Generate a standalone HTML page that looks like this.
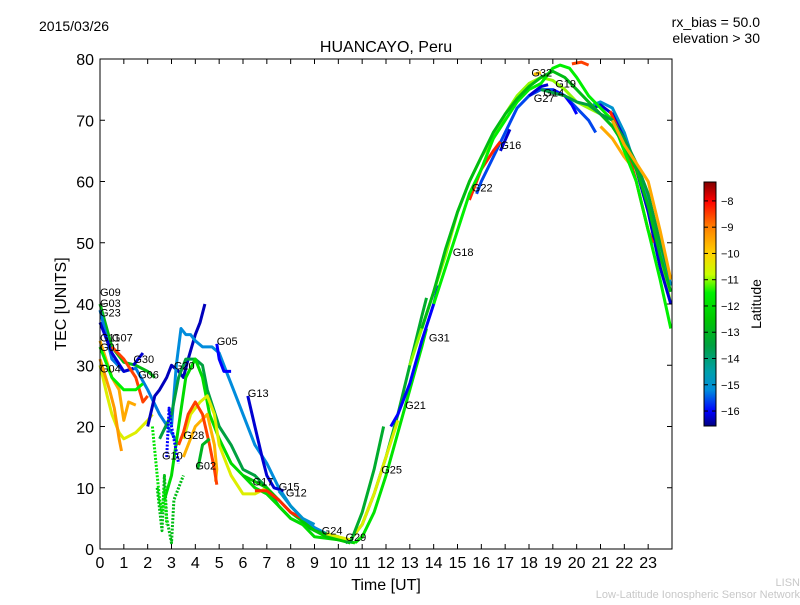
<!DOCTYPE html>
<html><head><meta charset="utf-8"><style>
body{margin:0;background:#fff;}
svg text{font-family:"Liberation Sans","DejaVu Sans",sans-serif;}
</style></head><body>
<svg id="chart" width="800" height="600" xmlns="http://www.w3.org/2000/svg">
<rect width="800" height="600" fill="#fff"/>
<defs><linearGradient id="jet" x1="0" y1="0" x2="0" y2="1"></linearGradient></defs>
<g id="series"></g>
<g id="labels"></g>
<rect x="100" y="59" width="572" height="490" fill="none" stroke="#000" stroke-width="1"/>
<g id="axes"></g>
<text x="39" y="31" font-size="14">2015/03/26</text>
<text x="760" y="27" font-size="14" text-anchor="end">rx_bias = 50.0</text>
<text x="760" y="43" font-size="14" text-anchor="end">elevation &gt; 30</text>
<text x="386" y="52" font-size="16" text-anchor="middle">HUANCAYO, Peru</text>
<text transform="translate(66,304) rotate(-90)" font-size="16" text-anchor="middle">TEC [UNITS]</text>
<text x="386" y="590" font-size="16" text-anchor="middle">Time [UT]</text>
<rect x="704" y="182" width="12" height="244" fill="url(#jet)" stroke="#000"/>
<g id="cbar"></g>
<text transform="translate(761,304) rotate(-90)" font-size="14" text-anchor="middle">Latitude</text>
<text x="800" y="586" font-size="11" fill="#c8c8c8" text-anchor="end">LISN</text>
<text x="800" y="598" font-size="11" fill="#c8c8c8" text-anchor="end">Low-Latitude Ionospheric Sensor Network</text>
</svg>
<script>
const xTicks=[0,1,2,3,4,5,6,7,8,9,10,11,12,13,14,15,16,17,18,19,20,21,22,23];
const yTicks=[0,10,20,30,40,50,60,70,80];
const cbTicks=[-8,-9,-10,-11,-12,-13,-14,-15,-16];
const latitudes=[-12.8,-15.3,-16.2,-8.5,-9.5,-10.5,-11.5,-9.3,-16.2,-16.3,-15.2,-13.5,-12,-10.5,-9.6,-8.5,-16,-16.2,-13,-12.8,-16,-11.8,-12.5,-8.3,-15,-13.2,-11.8,-10.5,-16,-13.2,-11,-15.6,-16.2,-8.3,-9.8,-16.2,-16,-15,-16.2,-8.3,-9.5,-11.5,-12.8,-13.5,-8.5,-9.5];
const seriesT=[
[0,0.5,1,1.5,2,2.3],
[0,0.5,1,1.5,2,2.5,3,3.3],
[0,0.5,1,1.4],
[0.5,1,1.5,1.8,2],
[0,0.5,0.8,1,1.2,1.5],
[0,0.3,0.5,0.8,1,1.5,2,2.2],
[0,0.5,1,1.5,1.8],
[0,0.4,0.6,0.8,0.9],
[1.4,1.6,1.8],
[2,2.3,2.5,2.8,3,3.3,3.5,3.7,4,4.2,4.4],
[3,3.2,3.4,3.6,3.8,4,4.3,4.7,5,5.3,5.6,6,6.5,7,7.5,8,8.5,9,9.5,10,10.5],
[2.5,3,3.3,3.6,4,4.3,4.5,5,5.5,6,6.5,7,7.5,8,9,10,10.5],
[2.7,3,3.3,3.6,4,4.3,4.6,5,5.5,6,6.5,7,7.5,8,8.5,9,10,10.7],
[3.5,3.8,4.2,4.5,4.8,5,5.5,6,6.5,7],
[3.5,4,4.5,4.8,4.9,4.85],
[3.3,3.5,3.7,4,4.3,4.6,4.8,4.9],
[4.9,5,5.2,5.5],
[6.2,6.5,6.8,7,7.3,7.7],
[4.1,4.3,4.6],
[2.4,2.6,2.7,2.8,3,3.1,3.3,3.5],
[2.8,2.9,3,3.3],
[2.2,2.5,2.6,2.7,2.8],
[6,6.5,7,7.5,8,8.5,9,9.5,10,10.5],
[6.5,7,7.5,8,8.5],
[7.5,8,8.5,9],
[10.3,10.5,11,11.5,12,12.5,13,13.5,13.7],
[10.7,11,11.5,12,12.5,13,13.5,13.7],
[9.5,10,10.5,11,11.5,12,12.5],
[12.2,12.5,13,13.5,14,14.2],
[10.5,11,11.5,11.9],
[13,13.5,14,14.5,15,15.5,16,16.5,17,17.5,18,18.5,19,19.5,20,20.5,21,21.5,22,22.5,23,23.5,23.95],
[15.8,16,16.5,17,17.5,18,18.5,19,19.5,20,20.5,20.8],
[16.8,17.2],
[15.5,16,16.5,16.8],
[18.2,18.5],
[18,18.5,18.8],
[19,19.5,19.8,20],
[20.7,21,21.5,22,22.5,23,23.5,23.95],
[20.7,21,21.5,22,22.5,23,23.5,23.95],
[21.4,21.8,22.2,22.5,23,23.2],
[21,21.5,22,22.2],
[14,14.5,15,15.5,16,16.5,17,17.5,18,18.5,19,19.3,19.7,20,20.5,21,21.5,22,22.5,23,23.5,23.95],
[13.5,14,14.5,15,15.5,16,16.5,17,17.5,18,18.5,19,19.5,20,20.5,21,21.5,22,22.5,23,23.5,23.95],
[18.5,19,19.5,20,20.5,21,21.5,22,22.5,23,23.5,23.95],
[19.8,20.2,20.5],
[21.5,22,22.5,23,23.5,23.95]
];
const seriesV=[
[40,33,30.5,30,29,28],
[39,31,29,29.5,26,22,19,17],
[37,32,29,29.5],
[33,31,28,24,25],
[34,28,26,21,24,23.5],
[30,25,22,19,18,19,21,22],
[33,28,26,26,27],
[31,26,23,18,16],
[30,31,32],
[20,25,26,28,30,29,28,31,35,37,40],
[20,30,36,35,35,34,33,33,32,29,26,22,17,14,10,7,5,3.5,2.5,2,1],
[18,22,28,31,31,30,26,20,17,13,12,10,7,5,3,2,1],
[8,12,20,28,31,28,22,18,14,12,10,9,7,5,4,2,1.5,1],
[18,22,24,25,22,17,12,9,9,10],
[15,20,22,17,13,11],
[17,19,22,24,22,17,13,10.5],
[33.5,31,29,29],
[25,20,15,12,10,9.5],
[13,17,18],
[10,3,12,5,1,8,10,12],
[15,23,20,14],
[20,8,6,10,4],
[12,11,10,8,6,4.5,3,2,1.5,1],
[9.5,9.5,8,6,5],
[9.5,7,5,4],
[1,1.5,4,9,15,22,30,38,41],
[1,2,6,12,19,26,33,36],
[2.5,2,1.5,4,9,15,21],
[20,22,27,34,40,43],
[1,6,13,20],
[30,36,42,48,55,60,64,67,71,74,76,77,76.5,75,73,72,71,69,66,62,56,48,40],
[58,60,64,68,72,74,75,75,74,72,70,68],
[65,68.5],
[57,62,65,66.5],
[77.5,77.8],
[74,75.5,75.8],
[75,74,72.5,71],
[72.5,73,72,68,62,57,50,43],
[72,72.5,71,67,62,55,46,40],
[71.5,68,64,60,52,50],
[69,67,64,63],
[40,46,52,58,62,67,70,73,75,76,78.5,79,78.5,77,74,72,70,65,60,52,44,36],
[36,42,49,55,60,64,68,71,73.5,75.5,77,78,77,75,73,71,69,66,62,56,48,42],
[75,74.5,74,73,72.5,71,70,67,63,58,50,44],
[79.2,79.5,79],
[70,66,63,60,52,44]
];
const labelNames=["G09","G03","G23","G11","G07","G01","G04","G30","G06","G20","G05","G13","G28","G10","G02","G17","G15","G12","G24","G29","G25","G21","G31","G18","G22","G16","G32","G19","G14","G27"];
const labelT=[0,0,0,0,0.5,0,0,1.4,1.6,3.1,4.9,6.2,3.5,2.6,4.0,6.4,7.5,7.8,9.3,10.3,11.8,12.8,13.8,14.8,15.6,16.8,18.1,19.1,18.6,18.2];
const labelV=[42,40.2,38.6,34.5,34.5,33,29.5,31,28.5,30,34,25.5,18.6,15.3,13.6,11,10.2,9.2,3,2,13,23.5,34.5,48.5,59,66,77.8,76,74.5,73.6];

const NS="http://www.w3.org/2000/svg";
const X=t=>100+t*572/24, Y=v=>549-v*490/80;
const LAT=l=>182+(-7.28-l)*244/9.29;
const cmapLat=[-7.28,-8,-9,-10,-10.8,-11.5,-12.5,-13.5,-14.5,-15.2,-16,-16.57];
const cmapCol=[[128,0,0],[255,0,0],[255,128,0],[255,210,0],[200,255,0],[0,240,0],[0,200,0],[0,160,64],[0,160,170],[0,140,220],[0,0,255],[0,0,128]];
function jet(l){
  if(l>=cmapLat[0])return `rgb(${cmapCol[0]})`;
  for(let k=0;k<cmapLat.length-1;k++){
    if(l<=cmapLat[k]&&l>=cmapLat[k+1]){const f=(cmapLat[k]-l)/(cmapLat[k]-cmapLat[k+1]);
      const c=cmapCol[k].map((a,j)=>Math.round(a+(cmapCol[k+1][j]-a)*f));return `rgb(${c})`;}
  }
  return `rgb(${cmapCol[cmapCol.length-1]})`;
}
const grad=document.getElementById('jet');
cmapLat.forEach((l,k)=>{const s=document.createElementNS(NS,'stop');
  s.setAttribute('offset',((-7.28-l)/9.29).toFixed(3));s.setAttribute('stop-color',`rgb(${cmapCol[k]})`);grad.appendChild(s);});
const sg=document.getElementById('series');
seriesT.forEach((ts,i)=>{
  const p=document.createElementNS(NS,'polyline');
  
  
  p.setAttribute('points',ts.map((t,j)=>X(t).toFixed(1)+','+Y(seriesV[i][j]).toFixed(1)).join(' '));
  p.setAttribute('fill','none');p.setAttribute('stroke',jet(latitudes[i]));
  p.setAttribute('stroke-width','3');p.setAttribute('stroke-linejoin','round');
  if(i>=19&&i<=21)p.setAttribute('stroke-dasharray','2 1.5');
  sg.appendChild(p);
});
const lg=document.getElementById('labels');
labelNames.forEach((n,i)=>{
  const t=document.createElementNS(NS,'text');
  
  
  t.setAttribute('x',X(labelT[i]));t.setAttribute('y',Y(labelV[i])+4);
  t.setAttribute('font-size','11');t.textContent=n;lg.appendChild(t);
});
const ax=document.getElementById('axes');
function line(x1,y1,x2,y2,g,name){const l=document.createElementNS(NS,'line');
  
  
  l.setAttribute('x1',x1);l.setAttribute('y1',y1);l.setAttribute('x2',x2);l.setAttribute('y2',y2);l.setAttribute('stroke','#000');g.appendChild(l);}
function txt(x,y,s,anchor,fs,g,name){const t=document.createElementNS(NS,'text');
  
  
  t.setAttribute('x',x);t.setAttribute('y',y);t.setAttribute('text-anchor',anchor);t.setAttribute('font-size',fs);t.textContent=s;g.appendChild(t);}
xTicks.forEach(v=>{const x=X(v);line(x,549,x,544,ax,'x-tick');line(x,59,x,64,ax,'x-tick-top');txt(x,568,v,'middle',16,ax,'x-tick-label');});
yTicks.forEach(v=>{const y=Y(v);line(100,y,105,y,ax,'y-tick');line(672,y,667,y,ax,'y-tick-right');txt(94,y+6,v,'end',16,ax,'y-tick-label');});
const cb=document.getElementById('cbar');
cbTicks.forEach(v=>{const y=LAT(v);line(704,y,708,y,cb,'cbar-tick');line(716,y,712,y,cb,'cbar-tick-right');txt(721,y+4,'\u2212'+(-v),'start',11,cb,'cbar-tick-label');});
</script>
</body></html>
